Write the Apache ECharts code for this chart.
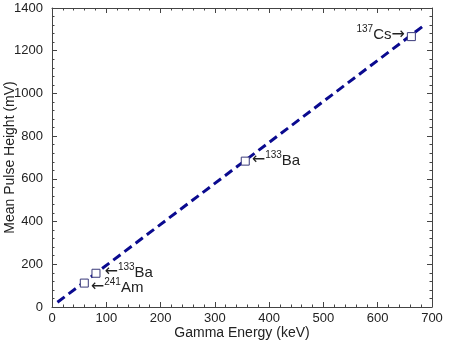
<!DOCTYPE html>
<html><head><meta charset="utf-8">
<script src="https://cdn.jsdelivr.net/npm/echarts@6/dist/echarts.min.js"></script>
<style>html,body{margin:0;padding:0;background:#fff}#c{width:450px;height:356px}</style>
</head><body><div id="c"></div>
<script>
// Measured sources
var energies = [59.5, 81, 356, 662];          // keV
var pulseHeights = [112, 158, 683, 1266];     // mV
var massNumbers = ['241', '133', '133', '137'];
var elements = ['Am', 'Ba', 'Ba', 'Cs'];
// Linear fit line endpoints
var fitEnergies = [10, 685];
var fitHeights = [22, 1318];
var xTicks = [0, 100, 200, 300, 400, 500, 600, 700];
var yTicks = [0, 200, 400, 600, 800, 1000, 1200, 1400];

var FONT = 'Liberation Sans, Arial, sans-serif';
var rich = {
  ar: {fontSize: 16, color: '#222', fontFamily: 'DejaVu Sans', lineHeight: 18, verticalAlign: 'bottom'},
  sup: {fontSize: 10, color: '#222', fontFamily: FONT, lineHeight: 18, verticalAlign: 'top'},
  el: {fontSize: 15, color: '#222', fontFamily: FONT, lineHeight: 18, verticalAlign: 'bottom'}
};
var labelCfg = [
  {position: 'right', distance: 2, offset: [0, 3]},
  {position: 'right', distance: 4, offset: [0, -2]},
  {position: 'right', distance: 2, offset: [0, -2]},
  {position: 'left', distance: 2, offset: [0, -3]}
];
var pts = energies.map(function (e, i) {
  var left = labelCfg[i].position === 'left';
  var txt = left ? '{sup|' + massNumbers[i] + '}{el|' + elements[i] + '}{ar|→}'
                 : '{ar|←}{sup|' + massNumbers[i] + '}{el|' + elements[i] + '}';
  return {value: [e, pulseHeights[i]], label: {show: true, position: labelCfg[i].position,
    distance: labelCfg[i].distance, offset: labelCfg[i].offset, formatter: txt, rich: rich}};
});

function axisCommon(extra) {
  var base = {
    axisLine: {show: true, onZero: false, lineStyle: {color: '#444', width: 1}},
    axisTick: {show: true, inside: true, length: 5, lineStyle: {color: '#444'}},
    minorTick: {show: true, splitNumber: 5, length: 2.5, lineStyle: {color: '#444'}},
    splitLine: {show: false}
  };
  for (var k in extra) base[k] = extra[k];
  return base;
}
function plain(v) { return String(v); }

var chart = echarts.init(document.getElementById('c'));
chart.setOption({
  animation: false,
  backgroundColor: '#fff',
  grid: {left: 52, right: 18, top: 8, bottom: 49, containLabel: false, outerBoundsMode: 'none'},
  xAxis: [
    axisCommon({type: 'value', min: xTicks[0], max: xTicks[xTicks.length - 1], interval: 100,
      name: 'Gamma Energy (keV)', nameLocation: 'middle', nameGap: 19, nameMoveOverlap: false,
      nameTextStyle: {fontSize: 14, color: '#222', fontFamily: FONT, verticalAlign: 'top'},
      axisLabel: {color: '#222', fontSize: 13, fontFamily: FONT, margin: 5, formatter: plain}}),
    axisCommon({type: 'value', position: 'top', min: xTicks[0], max: xTicks[xTicks.length - 1], interval: 100,
      axisLabel: {show: false}})
  ],
  yAxis: [
    axisCommon({type: 'value', min: yTicks[0], max: yTicks[yTicks.length - 1], interval: 200,
      name: 'Mean Pulse Height (mV)', nameLocation: 'middle', nameGap: 35, nameMoveOverlap: false,
      nameTextStyle: {fontSize: 14, color: '#222', fontFamily: FONT},
      axisLabel: {color: '#222', fontSize: 13, fontFamily: FONT, margin: 9, formatter: plain}}),
    axisCommon({type: 'value', position: 'right', min: yTicks[0], max: yTicks[yTicks.length - 1], interval: 200,
      axisLabel: {show: false}})
  ],
  series: [
    {type: 'line', data: fitEnergies.map(function (e, i) { return [e, fitHeights[i]]; }),
      showSymbol: false, symbol: 'none', z: 2,
      lineStyle: {color: '#0a0a8f', width: 3, type: [9, 5]}},
    {type: 'scatter', data: pts, symbol: 'rect', symbolSize: 8, z: 3,
      itemStyle: {color: '#ffffff', opacity: 1, borderColor: '#3a3a7a', borderWidth: 1},
      emphasis: {disabled: true}}
  ]
});
</script>
</body></html>
